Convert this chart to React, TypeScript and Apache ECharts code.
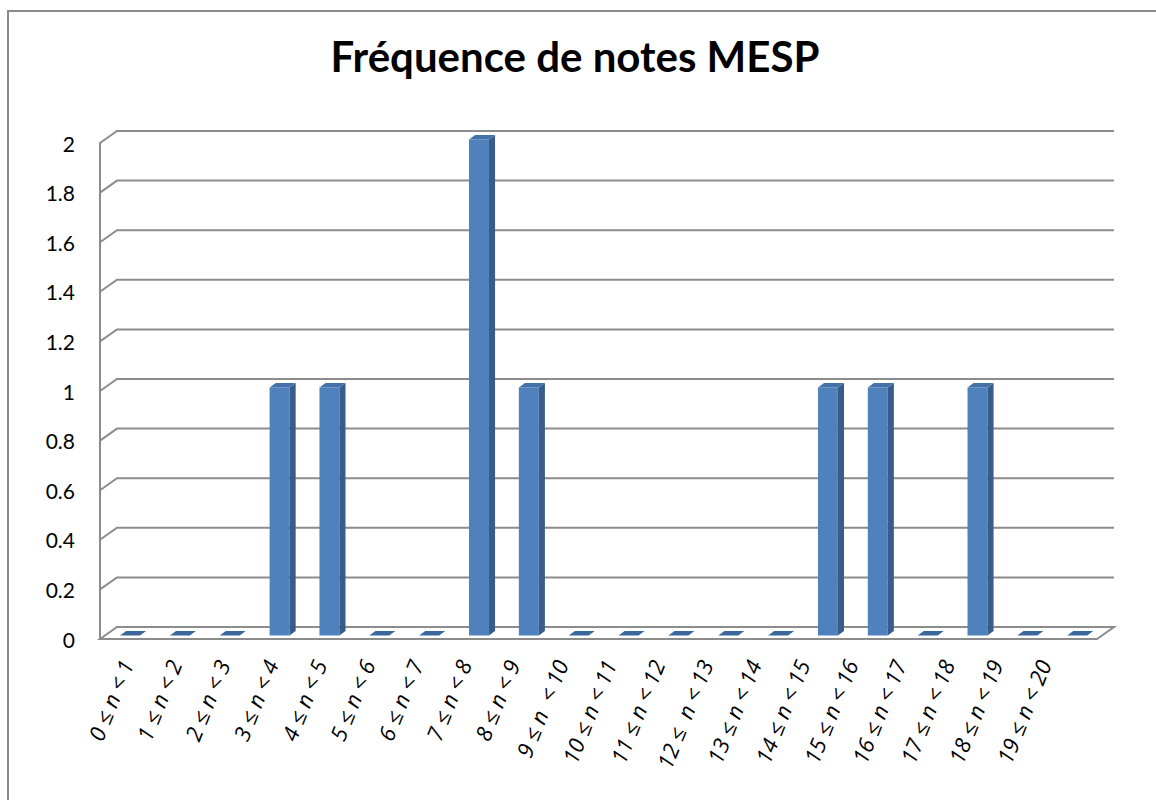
import React, { useEffect, useRef } from "react";
import * as echarts from "echarts";

const chartTitle = "Fréquence de notes MESP";
const categories = [
  "0 ≤ n < 1", "1 ≤ n < 2", "2 ≤ n < 3", "3 ≤ n < 4", "4 ≤ n < 5",
  "5 ≤ n < 6", "6 ≤ n < 7", "7 ≤ n < 8", "8 ≤ n < 9", "9 ≤ n  < 10",
  "10 ≤ n < 11", "11 ≤ n < 12", "12 ≤  n < 13", "13 ≤ n < 14", "14 ≤ n < 15",
  "15 ≤ n < 16", "16 ≤ n < 17", "17 ≤ n < 18", "18 ≤ n < 19", "19 ≤ n < 20",
];
const frequencies = [0, 0, 0, 1, 1, 0, 0, 2, 1, 0, 0, 0, 0, 0, 1, 1, 0, 1, 0, 0];
const yTicks = [0, 0.2, 0.4, 0.6, 0.8, 1, 1.2, 1.4, 1.6, 1.8, 2];

const FONT = "Lato, 'Open Sans', 'DejaVu Sans', sans-serif";
const LABEL_FONT = "'Open Sans', 'DejaVu Sans', sans-serif";
const GRID_COLOR = "#8c8c8c";
const DX = 17;
const DY = -12;
const D0 = 0.3;
const D1 = 0.66;

export default function App() {
  const ref = useRef<HTMLDivElement>(null);
  useEffect(() => {
    if (!ref.current) return;
    const chart = echarts.init(ref.current, null, { renderer: "svg" });

    const gridSeries = {
      type: "custom",
      xAxisIndex: 0,
      yAxisIndex: 0,
      silent: true,
      z: 1,
      data: yTicks.map((v) => [0, v]),
      renderItem: (params: any, api: any) => {
        const cs = params.coordSys;
        const x0 = cs.x;
        const x1 = cs.x + cs.width;
        const v = api.value(1);
        const y = api.coord([0, v])[1];
        if (v === 0) {
          return {
            type: "polygon",
            shape: {
              points: [
                [x0, y],
                [x0 + DX, y + DY],
                [x1 + DX, y + DY],
                [x1, y],
              ],
            },
            style: { fill: "#ffffff", stroke: GRID_COLOR, lineWidth: 2 },
          };
        }
        return {
          type: "polyline",
          shape: {
            points: [
              [x0, y],
              [x0 + DX, y + DY],
              [x1 + DX, y + DY],
            ],
          },
          style: { fill: "none", stroke: GRID_COLOR, lineWidth: 2 },
        };
      },
    };

    const barSeries = {
      type: "custom",
      xAxisIndex: 0,
      yAxisIndex: 0,
      z: 3,
      data: frequencies.map((v, i) => [i, v]),
      renderItem: (params: any, api: any) => {
        const i = api.value(0);
        const v = api.value(1);
        const top = api.coord([i, v]);
        const base = api.coord([i, 0]);
        const band = api.size([1, 0])[0];
        const w = band * 0.4;
        const cx = top[0] + D0 * DX;
        const xl = cx - w / 2;
        const xr = cx + w / 2;
        const yT = top[1] + D0 * DY;
        const yB = base[1] + D0 * DY;
        const ddx = (D1 - D0) * DX;
        const ddy = (D1 - D0) * DY;
        const topFace = {
          type: "polygon",
          shape: {
            points: [
              [xl, yT],
              [xr, yT],
              [xr + ddx, yT + ddy],
              [xl + ddx, yT + ddy],
            ],
          },
          style: { fill: v > 0 ? "#4472a8" : "#3b679c" },
        };
        if (v <= 0) return { type: "group", children: [topFace] };
        return {
          type: "group",
          children: [
            {
              type: "rect",
              shape: { x: xl, y: yT, width: w, height: yB - yT },
              style: { fill: "#4f81bd" },
            },
            {
              type: "polygon",
              shape: {
                points: [
                  [xr, yT],
                  [xr + ddx, yT + ddy],
                  [xr + ddx, yB + ddy],
                  [xr, yB],
                ],
              },
              style: { fill: "#385d8a" },
            },
            topFace,
          ],
        };
      },
    };

    const option = {
      animation: false,
      backgroundColor: "#ffffff",
      title: {
        text: chartTitle,
        left: 570,
        top: 30,
        textAlign: "center",
        textStyle: { fontFamily: FONT, fontWeight: "bold", fontSize: 42, color: "#000000" },
      },
      graphic: [
        {
          type: "rect",
          silent: true,
          z: -10,
          shape: { x: 8, y: 11, width: 1200, height: 900 },
          style: { fill: "none", stroke: "#8a8a8a", lineWidth: 2 },
        },
      ],
      grid: [
        { left: 100, right: 59, top: 143, bottom: 161 },
        { left: 102, right: 88, top: 143, bottom: 161 },
      ],
      xAxis: [
        {
          type: "category",
          gridIndex: 0,
          data: categories,
          axisLine: { show: false },
          axisTick: { show: false },
          axisLabel: { show: false },
          splitLine: { show: false },
        },
        {
          type: "category",
          gridIndex: 1,
          data: categories,
          axisLine: { show: false },
          axisTick: { show: false },
          splitLine: { show: false },
          axisLabel: {
            interval: 0,
            rotate: 68,
            margin: 22,
            fontStyle: "italic",
            fontFamily: LABEL_FONT,
            fontSize: 22,
            color: "#000000",
          },
        },
      ],
      yAxis: [
        {
          type: "value",
          gridIndex: 0,
          min: 0,
          max: 2,
          interval: 0.2,
          axisLine: { show: true, lineStyle: { color: GRID_COLOR, width: 2 } },
          axisTick: { show: false },
          splitLine: { show: false },
          axisLabel: { margin: 25, fontSize: 21, fontFamily: FONT, color: "#000000" },
        },
        { type: "value", gridIndex: 1, min: 0, max: 2, interval: 0.2, show: false },
      ],
      series: [gridSeries, barSeries],
    };
    chart.setOption(option as any);
    return () => chart.dispose();
  }, []);
  return (
    <div
      ref={ref}
      style={{ position: "fixed", left: 0, top: 0, width: 1156, height: 800 }}
    />
  );
}
